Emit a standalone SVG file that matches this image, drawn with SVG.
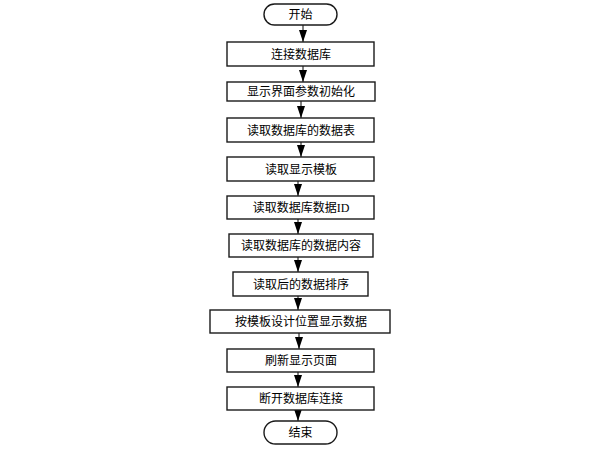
<svg xmlns="http://www.w3.org/2000/svg" width="601" height="454" viewBox="0 0 601 454">
<style>
.box{fill:#fff;stroke:#1a1a1a;stroke-width:1.4}
.t{font-family:"Liberation Serif","Noto Sans CJK SC",serif;font-size:12px;fill:#000;text-anchor:middle}
.c{stroke:#000;stroke-width:1;fill:none;marker-end:url(#ah)}
</style>
<defs>
<marker id="ah" markerUnits="userSpaceOnUse" markerWidth="12" markerHeight="8" refX="12" refY="4" orient="auto">
<path d="M0,0 L12,4 L0,8 z" fill="#000"/>
</marker>
</defs>
<rect width="601" height="454" fill="#fff"/>
<g id="connectors">
<line class="c" x1="303" y1="25" x2="303" y2="42"/>
<line class="c" x1="303" y1="66" x2="303" y2="82"/>
<line class="c" x1="301" y1="101" x2="301" y2="118"/>
<line class="c" x1="301" y1="142" x2="301" y2="157"/>
<line class="c" x1="298" y1="181" x2="298" y2="196"/>
<line class="c" x1="298" y1="219" x2="298" y2="234"/>
<line class="c" x1="298" y1="257" x2="298" y2="272"/>
<line class="c" x1="298" y1="296" x2="298" y2="310"/>
<line class="c" x1="299" y1="333" x2="299" y2="349"/>
<line class="c" x1="298" y1="372" x2="298" y2="387"/>
<line class="c" x1="298" y1="410" x2="298" y2="421"/>
</g>
<g id="start"><rect class="box" x="264" y="4" width="73" height="21" rx="10.5"/><text class="t" x="300.5" y="19">开始</text></g>
<g id="n1"><rect class="box" x="227" y="42" width="147" height="24"/><text class="t" x="301" y="58.5">连接数据库</text></g>
<g id="n2"><rect class="box" x="227" y="82" width="148" height="19"/><text class="t" x="301" y="96">显示界面参数初始化</text></g>
<g id="n3"><rect class="box" x="227" y="118" width="147" height="24"/><text class="t" x="301" y="134.5">读取数据库的数据表</text></g>
<g id="n4"><rect class="box" x="227" y="157" width="147" height="24"/><text class="t" x="301" y="173.5">读取显示模板</text></g>
<g id="n5"><rect class="box" x="227" y="196" width="147" height="23"/><text class="t" x="301" y="212">读取数据库数据ID</text></g>
<g id="n6"><rect class="box" x="229" y="234" width="144" height="23"/><text class="t" x="301" y="250">读取数据库的数据内容</text></g>
<g id="n7"><rect class="box" x="233" y="272" width="135" height="24"/><text class="t" x="301" y="288.5">读取后的数据排序</text></g>
<g id="n8"><rect class="box" x="210" y="310" width="180" height="23"/><text class="t" x="301" y="326">按模板设计位置显示数据</text></g>
<g id="n9"><rect class="box" x="227" y="349" width="147" height="23"/><text class="t" x="301" y="365">刷新显示页面</text></g>
<g id="n10"><rect class="box" x="227" y="387" width="147" height="23"/><text class="t" x="301" y="403">断开数据库连接</text></g>
<g id="end"><rect class="box" x="264" y="421" width="73" height="23" rx="11.5"/><text class="t" x="300.5" y="437">结束</text></g>
</svg>
